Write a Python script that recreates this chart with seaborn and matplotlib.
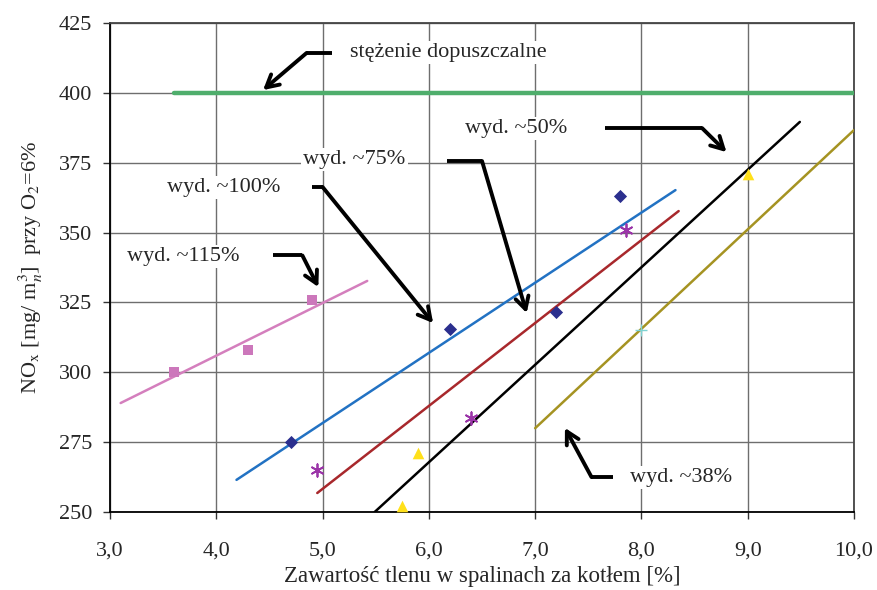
import matplotlib
matplotlib.use("Agg")
import matplotlib.pyplot as plt
import seaborn as sns
from matplotlib.ticker import FuncFormatter, MultipleLocator

# measured points (boiler load series)
x_115 = [3.6, 4.3, 4.9]
y_115 = [300, 308, 326]
x_100 = [4.7, 6.2, 7.2, 7.8]
y_100 = [275, 315.5, 321.5, 363]
x_75 = [4.95, 6.4, 7.85]
y_75 = [265, 283.5, 351]
x_50 = [5.75, 5.9, 9.0]
y_50 = [252, 271, 371]
x_38 = [8.0]
y_38 = [315]

# linear trend lines (start / end)
fit_115_x = [3.1, 5.42]
fit_115_y = [289, 332.7]
fit_100_x = [4.19, 8.32]
fit_100_y = [261.5, 365.2]
fit_75_x = [4.95, 8.35]
fit_75_y = [256.8, 357.7]
fit_50_x = [5.49, 9.49]
fit_50_y = [250, 389.6]
fit_38_x = [7.0, 10.0]
fit_38_y = [280, 386.7]

# permissible concentration
limit_x = [3.6, 10.0]
limit_y = [400, 400]

# annotation labels
ann_texts = ["stężenie dopuszczalne", "wyd. ~115%", "wyd. ~100%",
             "wyd. ~75%", "wyd. ~50%", "wyd. ~38%"]
ann_text_pos = [(5.26, 414.3), (3.16, 341.5), (3.54, 366.3),
                (4.82, 376.0), (6.34, 387.1), (7.89, 262.2)]
ann_paths = [
    [(5.09, 414.3), (4.85, 414.3), (4.44, 401.0)],
    [(4.53, 341.8), (4.81, 341.8), (4.96, 330.5)],
    [(4.90, 366.3), (5.00, 366.3), (6.04, 317.6)],
    [(6.17, 375.6), (6.50, 375.6), (6.92, 321.2)],
    [(7.66, 387.4), (8.57, 387.4), (8.80, 378.8)],
    [(7.73, 262.5), (7.53, 262.5), (7.28, 280.1)],
]

sns.set_theme(style="whitegrid")
plt.rcParams.update({
    "font.family": ["Liberation Serif", "DejaVu Serif"],
    "mathtext.fontset": "stix",
    "font.size": 16,
    "axes.edgecolor": "#333333",
    "grid.color": "#6e6e6e",
    "grid.linewidth": 1.0,
})

fig = plt.figure(figsize=(8.78, 5.90), dpi=100)
ax = fig.add_axes([0.1253, 0.1322, 0.9727 - 0.1253, 0.961 - 0.1322])
ax.set_facecolor("white")

# trend lines
lines = [
    (fit_115_x, fit_115_y, "#d47fbd", 1.8),
    (fit_100_x, fit_100_y, "#2272c3", 1.8),
    (fit_75_x, fit_75_y, "#a8282c", 1.8),
    (fit_50_x, fit_50_y, "#000000", 1.8),
    (fit_38_x, fit_38_y, "#a59322", 1.8),
    (limit_x, limit_y, "#4fae6c", 3.2),
]
for lx, ly, c, lw in lines:
    sns.lineplot(x=lx, y=ly, ax=ax, color=c, linewidth=lw,
                 estimator=None, sort=False, zorder=3)

# measured points
sns.scatterplot(x=x_115, y=y_115, ax=ax, marker="s", color="#cc77bb",
                s=55, linewidth=0, zorder=4)
sns.scatterplot(x=x_100, y=y_100, ax=ax, marker="D", color="#2b2f8e",
                s=45, linewidth=0, zorder=4)
sns.scatterplot(x=x_75, y=y_75, ax=ax, marker=(6, 2, 0), color="#9b35a8",
                edgecolor="#9b35a8", s=80, linewidth=1.3, zorder=4)
sns.scatterplot(x=x_50, y=y_50, ax=ax, marker="^", color="#ffe01a",
                s=70, linewidth=0, zorder=4)
sns.scatterplot(x=x_38, y=y_38, ax=ax, marker="+", color="#7fd3d3",
                edgecolor="#7fd3d3", s=80, linewidth=1.0, zorder=4)

# annotations with bent arrows
for txt, (tx, ty), path in zip(ann_texts, ann_text_pos, ann_paths):
    ax.text(tx, ty, txt, ha="left", va="center", fontsize=16, zorder=5,
            bbox=dict(facecolor="white", edgecolor="none", pad=1.5))
    px = [p[0] for p in path[:-1]]
    py = [p[1] for p in path[:-1]]
    ax.plot(px, py, color="black", linewidth=2.8, zorder=6,
            solid_capstyle="butt", solid_joinstyle="miter")
    ax.annotate("", xy=path[-1], xytext=path[-2], zorder=6,
                arrowprops=dict(arrowstyle="->,head_length=0.55,head_width=0.3",
                                color="black", lw=2.8, shrinkA=0, shrinkB=0))

ax.set_xlim(3.0, 10.0)
ax.set_ylim(250, 425)
ax.xaxis.set_major_locator(MultipleLocator(1.0))
ax.yaxis.set_major_locator(MultipleLocator(25))
ax.xaxis.set_major_formatter(FuncFormatter(lambda v, _: f"{v:.1f}".replace(".", ",")))
ax.grid(True, zorder=0)
ax.set_axisbelow(True)

ax.tick_params(axis="both", which="major", direction="out", length=5,
               width=1, color="#333333", labelsize=16, bottom=True, left=True)
ax.tick_params(axis="x", pad=16)
ax.tick_params(axis="y", pad=8)

for side in ["left", "bottom"]:
    ax.spines[side].set_color("black")
    ax.spines[side].set_linewidth(1.3)
for side in ["top", "right"]:
    ax.spines[side].set_color("#444444")
    ax.spines[side].set_linewidth(1.3)

ax.set_xlabel("Zawartość tlenu w spalinach za kotłem [%]", fontsize=16.5, labelpad=4)
ax.set_ylabel(r"NO$_{\mathrm{x}}$ [mg/ m$_n^3$]  przy O$_2$=6%", fontsize=16, labelpad=10)

fig.savefig("out.png", dpi=100)
